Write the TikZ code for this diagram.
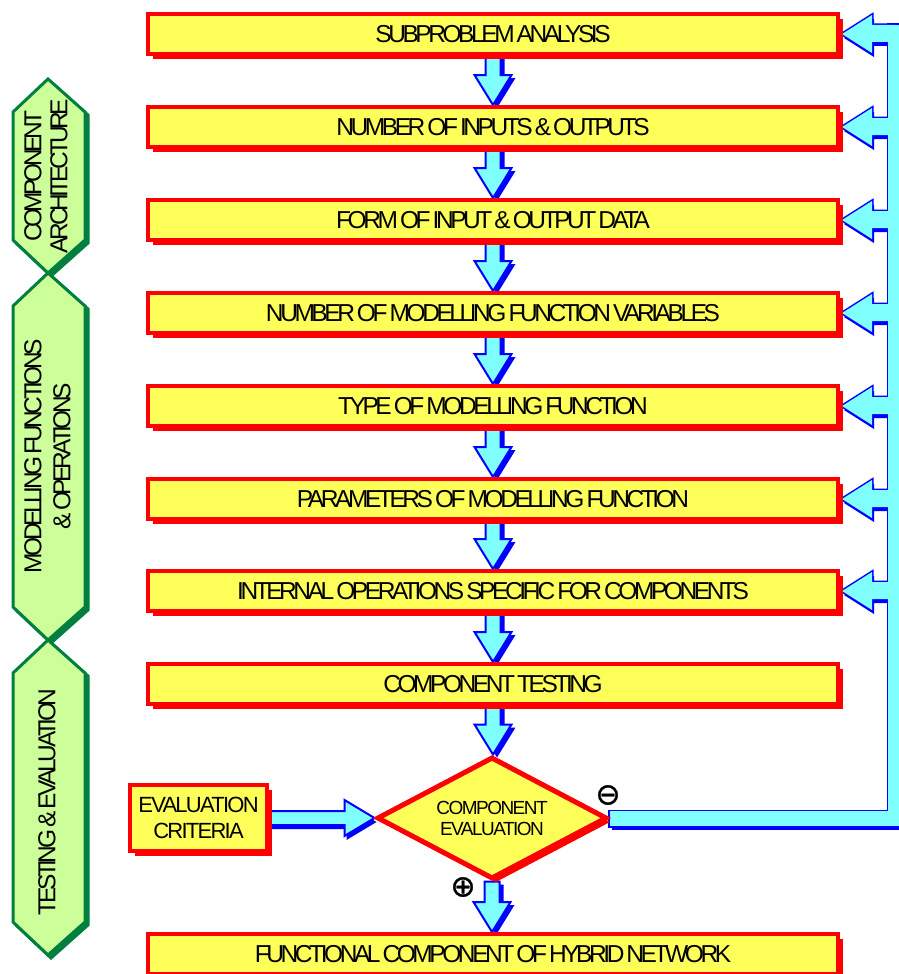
\documentclass[tikz,border=0pt]{standalone}
\usepackage{fontspec}
\setmainfont{Liberation Sans}
\newfontfamily\tightfont[LetterSpace=-14,WordSpace=0.6]{Liberation Sans}
\newfontfamily\midfont[LetterSpace=-8,WordSpace=0.6]{Liberation Sans}
\newfontfamily\symfont[FakeBold=1.2]{DejaVu Sans}
\usetikzlibrary{calc,shapes.geometric,shadows}
\pgfdeclarelayer{background}
\pgfsetlayers{background,main}
\definecolor{boxyellow}{HTML}{FFFF5A}
\definecolor{flowcyan}{HTML}{80FFFF}
\definecolor{flowblue}{HTML}{0000FF}
\definecolor{hexfill}{HTML}{CCFF99}
\definecolor{hexline}{HTML}{007F3F}

% fat down arrow between two nodes
\newcommand\downpath[2]{%
  \path let \p1=(#1.south), \p2=(#2.north) in
   (\x1-7.5pt,\y1) -- (\x1+7.5pt,\y1) -- (\x1+7.5pt,\y2+30pt) -- (\x1+18.5pt,\y2+30pt)
   -- (\x1,\y2) -- (\x1-18.5pt,\y2+30pt) -- (\x1-7.5pt,\y2+30pt) -- cycle;}
% fat right arrow between two nodes
\newcommand\rightpath[2]{%
  \path let \p1=(#1.east), \p2=(#2.west) in
   (\x1,\y1+7pt) -- (\x2-30pt,\y1+7pt) -- (\x2-30pt,\y1+18pt) -- (\x2,\y1)
   -- (\x2-30pt,\y1-18pt) -- (\x2-30pt,\y1-7pt) -- (\x1,\y1-7pt) -- cycle;}
% feedback branch from the return bus into a box
\newcommand\branchpath[1]{%
  \path let \p1=(#1.east) in
    (\x1+2pt,\y1) -- (\x1+32pt,\y1+19pt) -- (\x1+32pt,\y1+9pt) -- (895pt,\y1+9pt)
    -- (895pt,\y1-8pt) -- (\x1+32pt,\y1-8pt) -- (\x1+32pt,\y1-19pt) -- cycle;}
% all pieces of the return bus
\newcommand\buspieces{%
  \path (888,25) rectangle (912,826);
  \path let \p1=(dia.east) in (\x1,\y1+7pt) rectangle (912pt,\y1-8pt);
  \foreach \bx in {b1,b2,b3,b4,b5,b6,b7}{\branchpath{\bx}}}

\tikzset{
  stepbox/.style={draw=red, line width=4pt, fill=boxyellow, minimum width=690pt,
    minimum height=40pt, inner sep=0pt, font=\tightfont\fontsize{24.5}{26}\selectfont,
    drop shadow={shadow xshift=5pt, shadow yshift=-5pt, fill=red, opacity=1}},
  critbox/.style={draw=red, line width=4pt, fill=boxyellow, minimum width=137pt,
    minimum height=66pt, inner sep=0pt, align=center,
    font=\midfont\fontsize{22}{26}\selectfont,
    drop shadow={shadow xshift=5pt, shadow yshift=-5pt, fill=red, opacity=1}},
  decision/.style={diamond, aspect=1.88, draw=red, line width=5pt, fill=boxyellow,
    minimum width=230pt, minimum height=122pt, inner sep=0pt, align=center,
    font=\midfont\fontsize{19}{21}\selectfont,
    drop shadow={shadow xshift=4pt, shadow yshift=-4pt, fill=red, opacity=1}},
  hexshape/.style={draw=hexline, line width=3pt, fill=hexfill, line join=miter},
  hexshadow/.style={draw=hexline, fill=hexline, line width=3pt, line join=miter, shift={(3,3)}},
  hexlabel/.style={rotate=90, align=center, inner sep=0pt,
    font=\tightfont\fontsize{24.5}{26}\selectfont},
  arrowbody/.style={draw=flowblue, line width=2pt, fill=flowcyan, line join=miter},
  sign/.style={inner sep=0pt, font=\symfont\fontsize{30}{30}\selectfont},
}

\begin{document}
\begin{tikzpicture}[x=1pt,y=-1pt]
\useasboundingbox (0,0) rectangle (899,974);
\clip (0,0) rectangle (899,974);

% phase bands on the left
\foreach \t/\b in {79/273, 273/640, 640/955}{
  \path[hexshadow] (48,\t) -- (85,\t+33) -- (85,\b-33) -- (48,\b) -- (13,\b-33) -- (13,\t+33) -- cycle;
}
\foreach \t/\b in {79/273, 273/640, 640/955}{
  \path[hexshape] (48,\t) -- (85,\t+33) -- (85,\b-33) -- (48,\b) -- (13,\b-33) -- (13,\t+33) -- cycle;
}
\node[hexlabel] (hexa) at (46,176) {COMPONENT\\ARCHITECTURE};
\node[hexlabel, font=\tightfont\fontsize{24.5}{29}\selectfont] (hexb) at (47.5,456) {MODELLING FUNCTIONS\\\& OPERATIONS};
\node[hexlabel] (hexc) at (47,802) {TESTING \& EVALUATION};

% process steps
\node[stepbox] (b1) at (493,34)  {SUBPROBLEM ANALYSIS};
\node[stepbox] (b2) at (493,127) {NUMBER OF INPUTS \& OUTPUTS};
\node[stepbox] (b3) at (493,220) {FORM OF INPUT \& OUTPUT DATA};
\node[stepbox] (b4) at (493,313) {NUMBER OF MODELLING FUNCTION VARIABLES};
\node[stepbox] (b5) at (493,406) {TYPE OF MODELLING FUNCTION};
\node[stepbox] (b6) at (493,499) {PARAMETERS OF MODELLING FUNCTION};
\node[stepbox] (b7) at (493,591) {INTERNAL OPERATIONS SPECIFIC FOR COMPONENTS};
\node[stepbox] (b8) at (493,684) {COMPONENT TESTING};
\node[decision] (dia) at (492,818) {COMPONENT\\EVALUATION};
\node[critbox] (crit) at (198.5,818) {EVALUATION\\CRITERIA};
\node[stepbox] (fin) at (493,954) {FUNCTIONAL COMPONENT OF HYBRID NETWORK};

\node[sign] (minus) at (608,795) {⊖};
\node[sign] (plus) at (463,887) {⊕};

\begin{pgfonlayer}{background}
  % return bus: shadow, outline, body
  \begin{scope}[transform canvas={xshift=2pt,yshift=-4pt}, every path/.style={fill=flowblue}]
    \buspieces
  \end{scope}
  \begin{scope}[every path/.style={draw=flowblue, line width=3pt}]
    \buspieces
  \end{scope}
  \begin{scope}[every path/.style={fill=flowcyan}]
    \buspieces
  \end{scope}
  % flow arrows
  \foreach \fa/\fb in {b1/b2,b2/b3,b3/b4,b4/b5,b5/b6,b6/b7,b7/b8,b8/dia,dia/fin}{
    \begin{scope}[transform canvas={xshift=4pt,yshift=-3pt}, every path/.style={fill=flowblue}]
      \downpath{\fa}{\fb}
    \end{scope}
    \begin{scope}[every path/.style=arrowbody]
      \downpath{\fa}{\fb}
    \end{scope}
  }
  \begin{scope}[transform canvas={xshift=2pt,yshift=-4pt}, every path/.style={fill=flowblue}]
    \rightpath{crit}{dia}
  \end{scope}
  \begin{scope}[every path/.style=arrowbody]
    \rightpath{crit}{dia}
  \end{scope}
\end{pgfonlayer}
\end{tikzpicture}
\end{document}
